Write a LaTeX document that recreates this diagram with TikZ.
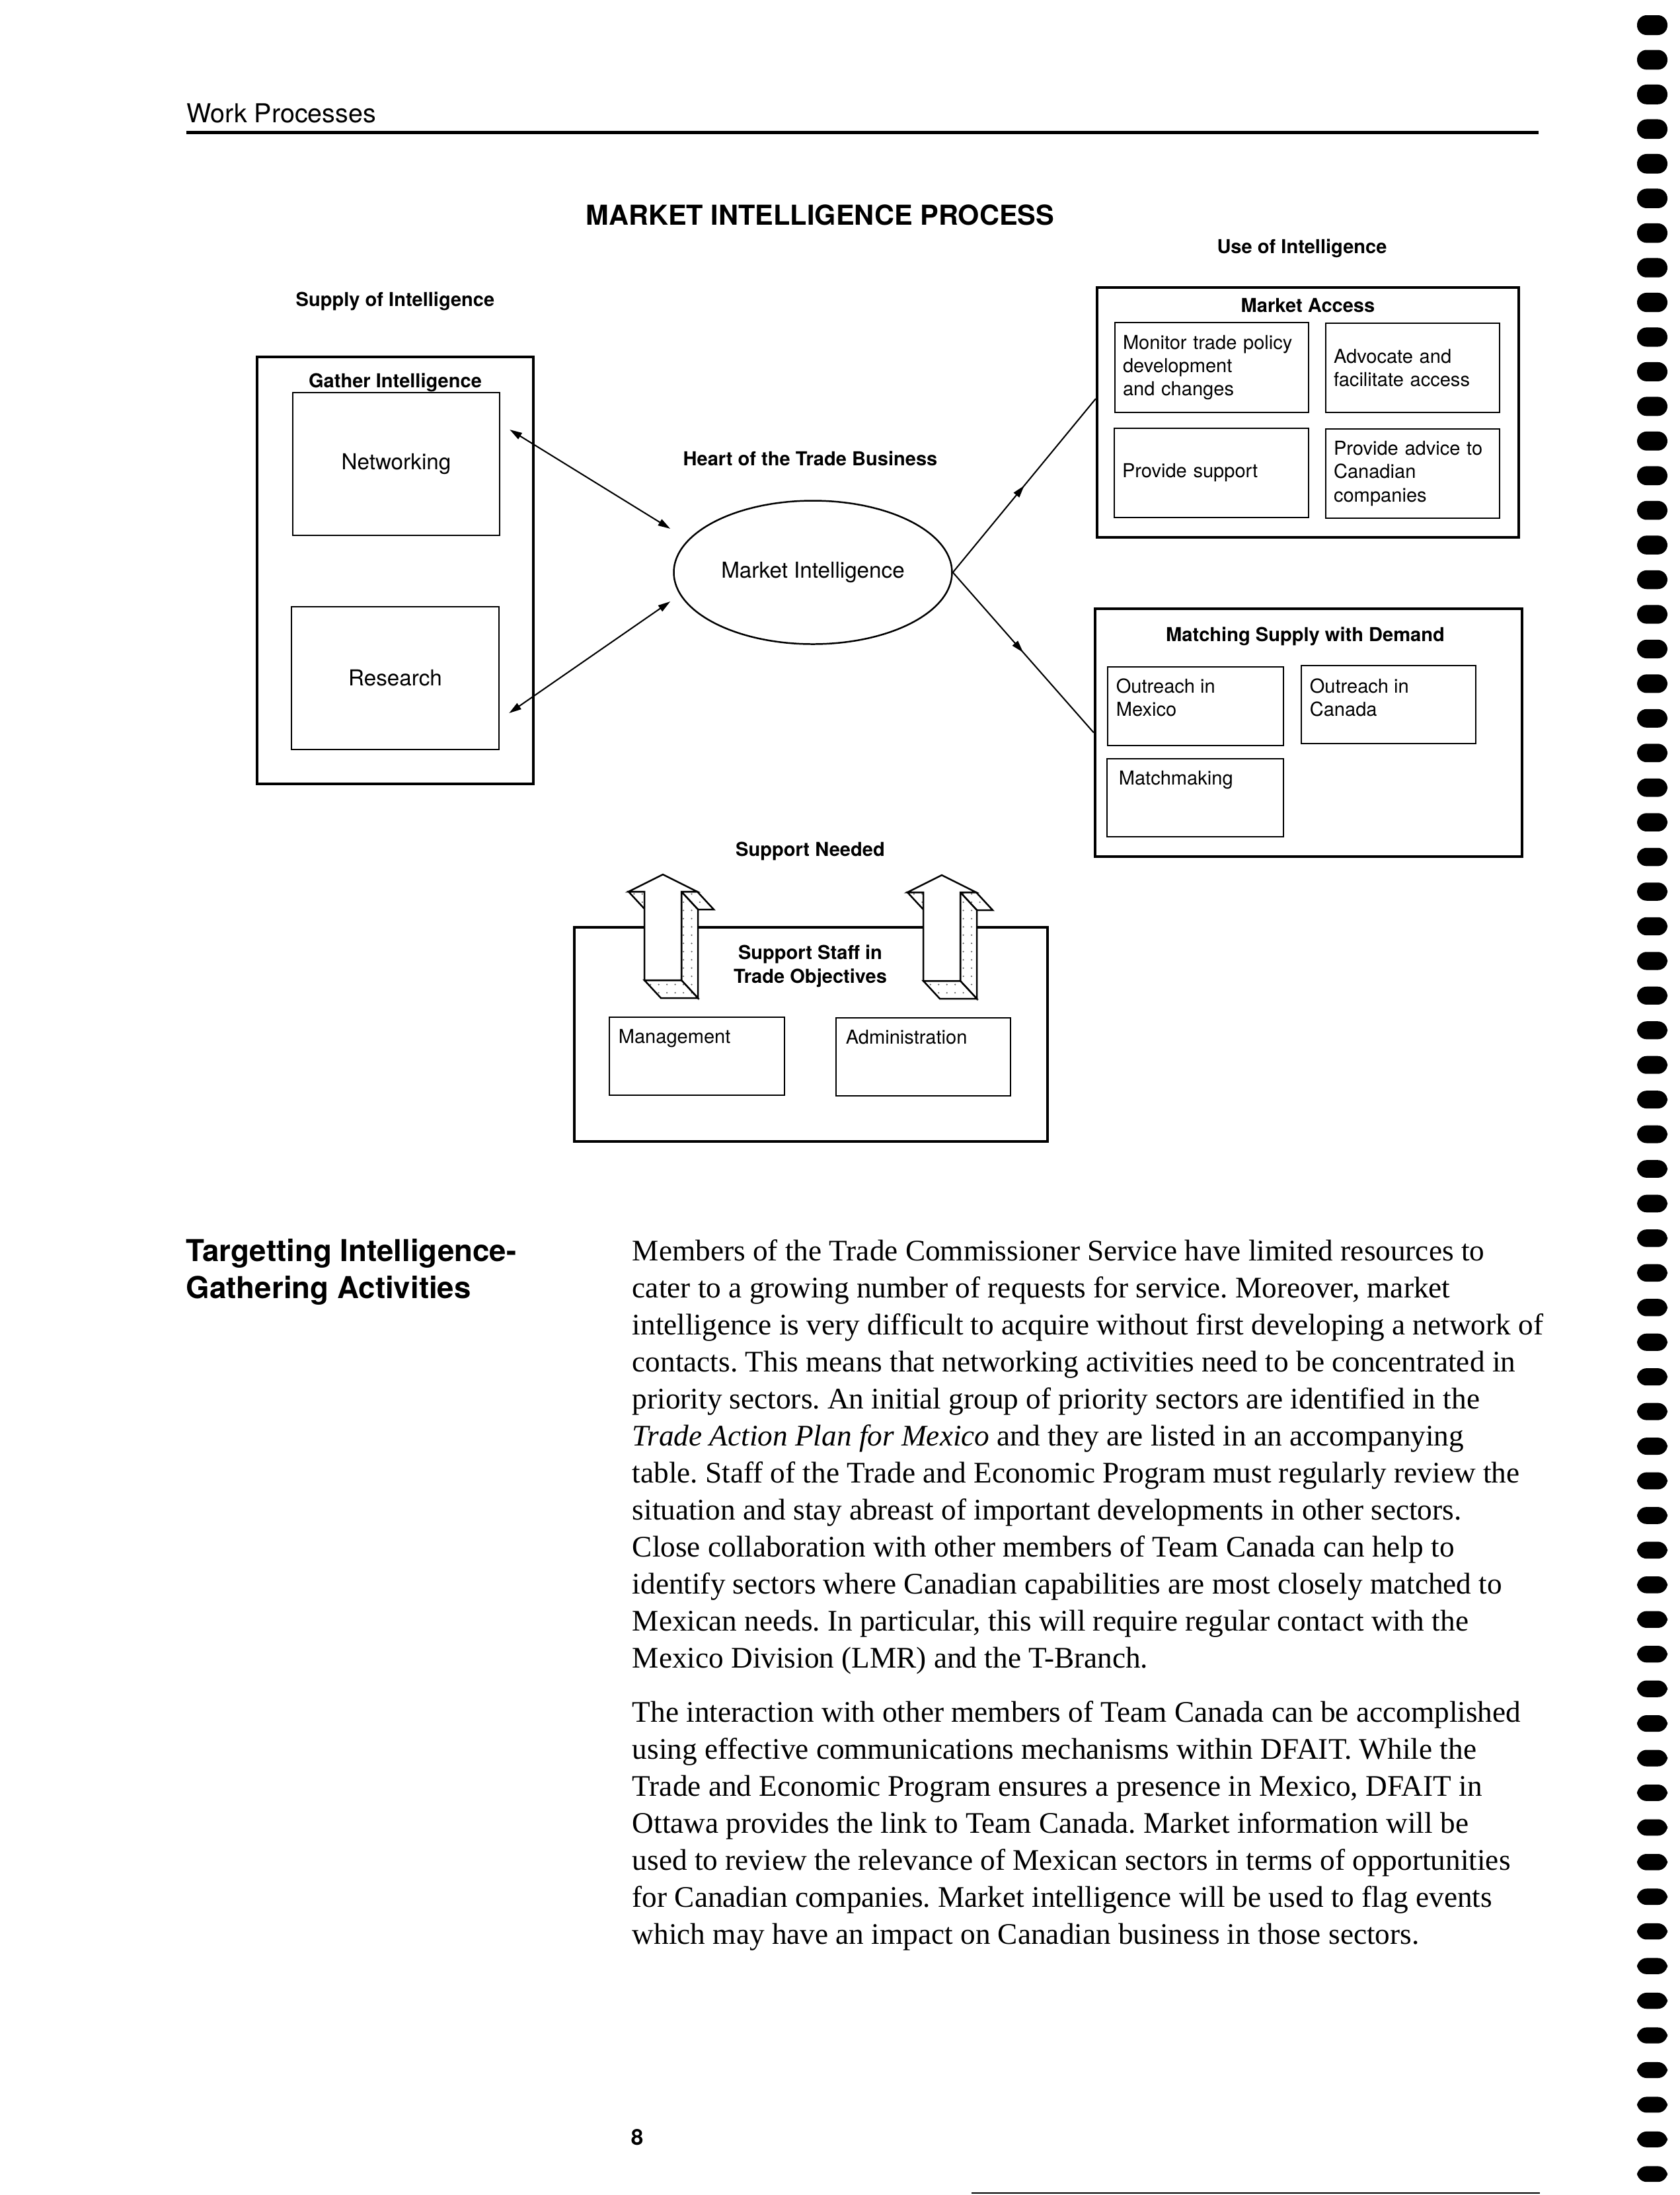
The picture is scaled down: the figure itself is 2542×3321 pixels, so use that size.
\documentclass[tikz,border=0pt]{standalone}
\usepackage{fontspec}
\setmainfont{Liberation Serif}
\newfontfamily\helv{TeX Gyre Heros}
\usetikzlibrary{arrows.meta}
\usetikzlibrary{calc}
\usetikzlibrary{shapes.geometric}
\usetikzlibrary{decorations.markings}
\usetikzlibrary{patterns.meta}
\pgfdeclarelayer{edgelayer}
\pgfdeclarelayer{nodelayer}
\pgfsetlayers{edgelayer,nodelayer,main}
\frenchspacing
\newcommand{\pxl}{0.2408pt}
\tikzstyle{mainbox}=[draw=black,line width=1pt,inner sep=0pt]
\tikzstyle{subbox}=[draw=black,line width=0.6pt,fill=white,inner sep=0pt]
\tikzstyle{headtext}=[inner sep=0pt,font=\helv\bfseries\fontsize{7}{8.7}\selectfont]
\tikzstyle{boxtext}=[inner sep=0pt,font=\helv\fontsize{7}{8.5}\selectfont,align=left]
\tikzstyle{bigtext}=[font=\helv\fontsize{8}{9.6}\selectfont]
\tikzstyle{bodytext}=[inner sep=0pt,font=\fontsize{10.9}{13.48}\selectfont,align=left]
\tikzstyle{face}=[draw=black,line width=0.6pt,preaction={fill=white},pattern={Dots[distance=3pt,radius=0.3pt]},pattern color=black!60]
\tikzset{
    wh/.style 2 args={minimum width=#1*\pxl,minimum height=#2*\pxl},
    biarrow/.style={<->,line width=0.5pt},
    midarrow/.style={line width=0.5pt,decoration={markings,mark=at position 0.5 with {\arrow{>}}},postaction={decorate}},
    pics/uparrow/.style={code={
        \path [face] (-52,26) -- (-28,26) -- (-3,53) -- (-27,53) -- cycle;
        \path [face] (28,26) -- (52,26) -- (77,53) -- (53,53) -- cycle;
        \path [face] (28,26) -- (53,53) -- (53,187) -- (28,160) -- cycle;
        \path [face] (-28,160) -- (28,160) -- (53,187) -- (-3,187) -- cycle;
        \draw [line width=0.6pt,fill=white] (0,0) -- (52,26) -- (28,26) -- (28,160) -- (-28,160) -- (-28,26) -- (-52,26) -- cycle;
    }}
}

\begin{document}
\begin{tikzpicture}[x=\pxl,y=-\pxl,>={Triangle[length=4.5pt,width=2.6pt]}]
        \begin{pgfonlayer}{edgelayer}
            \path [use as bounding box,fill=white] (0,0) rectangle (2542,3321);
        \end{pgfonlayer}

        \begin{pgfonlayer}{nodelayer}
            \node [inner sep=0pt,font=\helv\fontsize{9.5}{11}\selectfont,anchor=base west] (header) at (282,185) {Work Processes};
            \node [inner sep=0pt,font=\helv\bfseries\fontsize{10}{12}\selectfont,anchor=base] (title) at (1241,340) {MARKET INTELLIGENCE PROCESS};

            % supply of intelligence
            \node [headtext,anchor=base] (supply) at (598,463) {Supply of Intelligence};
            \node [mainbox,wh={418}{646}] (gather) at (598,863) {};
            \node [headtext,anchor=base] (gathertitle) at (598,586) {Gather Intelligence};
            \node [subbox,bigtext,wh={313}{216}] (net) at (599.5,702) {Networking};
            \node [subbox,bigtext,wh={314}{216}] (res) at (598,1026) {Research};

            % heart
            \node [headtext,anchor=base] (heart) at (1226,704) {Heart of the Trade Business};
            \node [ellipse,draw=black,line width=0.6pt,fill=white,inner sep=0pt,bigtext,wh={421}{217}] (mi) at (1230,866) {Market Intelligence};

            % market access
            \node [headtext,anchor=base] (use) at (1970,383) {Use of Intelligence};
            \node [mainbox,wh={638}{378}] (ma) at (1979,624) {};
            \node [headtext,anchor=base] (matitle) at (1979,472) {Market Access};
            \node [subbox,boxtext,wh={293}{136},text width=269*\pxl,inner xsep=12*\pxl] (monitor) at (1833.5,556) {Monitor trade policy\\development\\and changes};
            \node [subbox,boxtext,wh={263}{135},text width=239*\pxl,inner xsep=12*\pxl] (advocate) at (2137.5,556.5) {Advocate and\\facilitate access};
            \node [subbox,boxtext,wh={294}{135},text width=270*\pxl,inner xsep=12*\pxl] (provide) at (1833,715.5) {Provide support};
            \node [subbox,boxtext,wh={263}{135},text width=239*\pxl,inner xsep=12*\pxl] (advice) at (2137.5,716.5) {Provide advice to\\Canadian\\companies};

            % matching supply with demand
            \node [mainbox,wh={646}{375}] (msd) at (1980,1108.5) {};
            \node [headtext,anchor=base] (msdtitle) at (1975,970) {Matching Supply with Demand};
            \node [subbox,wh={266}{119}] (mexico) at (1809,1068.5) {};
            \node [boxtext,anchor=north west] (mexicotext) at (1688,1026) {Outreach in\\Mexico};
            \node [subbox,wh={264}{118}] (canada) at (2101,1066) {};
            \node [boxtext,anchor=north west] (canadatext) at (1981,1026) {Outreach in\\Canada};
            \node [subbox,wh={267}{118}] (match) at (1808.5,1207) {};
            \node [boxtext,anchor=base west] (matchtext) at (1692,1187) {Matchmaking};

            % support staff
            \node [headtext,anchor=base] (needed) at (1226,1295) {Support Needed};
            \node [mainbox,wh={716}{324}] (staff) at (1227,1565) {};
            \node [headtext,align=center,anchor=north] (stafftitle) at (1226,1429) {Support Staff in\\Trade Objectives};
            \node [subbox,wh={265}{118}] (mgmt) at (1054.5,1598) {};
            \node [boxtext,anchor=base west] (mgmttext) at (935,1578) {Management};
            \node [subbox,wh={264}{118}] (admin) at (1397,1599) {};
            \node [boxtext,anchor=base west] (admintext) at (1279,1579) {Administration};

            % text of the page
            \node [inner sep=0pt,font=\helv\bfseries\fontsize{11}{13.48}\selectfont,align=left,anchor=north west] (sidehead) at (281,1874) {Targetting Intelligence-\\Gathering Activities};
            \node [bodytext,anchor=north west] (para1) at (956,1875) {Members of the Trade Commissioner Service have limited resources to\\
cater to a growing number of requests for service. Moreover, market\\
intelligence is very difficult to acquire without first developing a network of\\
contacts. This means that networking activities need to be concentrated in\\
priority sectors. An initial group of priority sectors are identified in the\\
\textit{Trade Action Plan for Mexico} and they are listed in an accompanying\\
table. Staff of the Trade and Economic Program must regularly review the\\
situation and stay abreast of important developments in other sectors.\\
Close collaboration with other members of Team Canada can help to\\
identify sectors where Canadian capabilities are most closely matched to\\
Mexican needs. In particular, this will require regular contact with the\\
Mexico Division (LMR) and the T-Branch.};
            \node [bodytext,anchor=north west] (para2) at (956,2573) {The interaction with other members of Team Canada can be accomplished\\
using effective communications mechanisms within DFAIT. While the\\
Trade and Economic Program ensures a presence in Mexico, DFAIT in\\
Ottawa provides the link to Team Canada. Market information will be\\
used to review the relevance of Mexican sectors in terms of opportunities\\
for Canadian companies. Market intelligence will be used to flag events\\
which may have an impact on Canadian business in those sectors.};
            \node [inner sep=0pt,font=\helv\bfseries\fontsize{8}{9}\selectfont,anchor=base west] (pagenum) at (954,3245) {8};
        \end{pgfonlayer}

        \begin{pgfonlayer}{edgelayer}
            \draw [biarrow] ($(net.east)+(14,-52)$) to ($(mi.west)+(-4,-66)$);
            \draw [biarrow] ($(mi.west)+(-4,44)$) to ($(res.east)+(14,53)$);
            \draw [midarrow] (mi.east) to ([yshift=5pt]ma.west);
            \draw [midarrow] (mi.east) to (msd.west);
        \end{pgfonlayer}

        % support arrows, rules and binding holes
        \pic at (1003,1323) {uparrow};
        \pic at (1425,1324) {uparrow};
        \draw [line width=1.2pt] (282,200) -- (2328,200);
        \draw [line width=0.6pt] (1470,3318) -- (2330,3318);
        \foreach \i in {0,...,62} {
            \pgfmathsetmacro{\hy}{38+\i*52.44}
            \pgfmathsetmacro{\hh}{30-\i*0.1}
            \fill [rounded corners=3.5pt] (2477,{\hy-\hh/2}) rectangle (2523,{\hy+\hh/2});
        }
\end{tikzpicture}
\end{document}
